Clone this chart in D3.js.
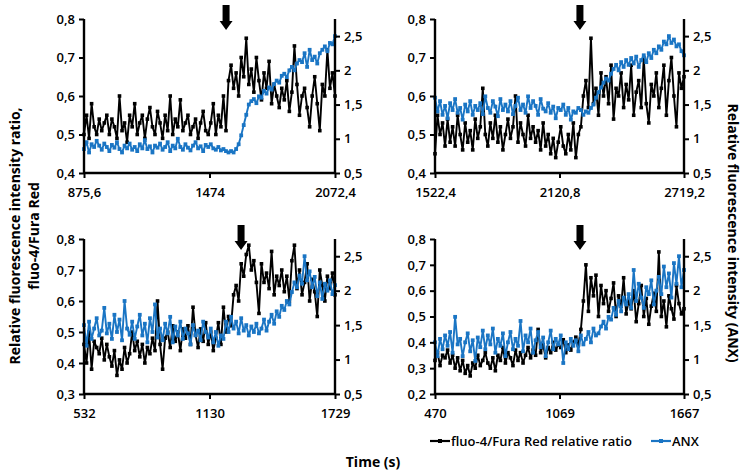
<!DOCTYPE html>
<html><head><meta charset="utf-8">
<script src="https://cdn.jsdelivr.net/npm/d3@7"></script>
<style>body{margin:0;background:#fff}svg{display:block}text{font-family:"Open Sans",sans-serif;fill:#000}</style>
</head><body><svg id="c" width="746" height="475"></svg>
<script>
// ---------- DATA ----------
const timeRanges = [[875.6, 2072.4], [1522.4, 2719.2], [532, 1729], [470, 1667]];
const xTickLabels = [["875,6","1474","2072,4"],["1522,4","2120,8","2719,2"],["532","1130","1729"],["470","1069","1667"]];
const leftDomains = [[0.4, 0.8], [0.4, 0.8], [0.3, 0.8], [0.2, 0.8]];
const rightDomain = [0.5, 2.75];
const rightTicks = [0.5, 1, 1.5, 2, 2.5];
const arrowTimes = [1553, 2219, 1281, 1167];
const seriesNames = ["fluo-4/Fura Red relative ratio", "ANX"];

const ratio1 = [0.50,0.55,0.49,0.58,0.52,0.50,0.54,0.51,0.53,0.55,
0.50,0.54,0.52,0.49,0.60,0.51,0.53,0.48,0.55,0.52,
0.58,0.50,0.53,0.55,0.49,0.54,0.57,0.52,0.50,0.56,
0.53,0.49,0.55,0.51,0.60,0.50,0.54,0.52,0.59,0.51,
0.53,0.55,0.50,0.52,0.54,0.49,0.53,0.56,0.51,0.50,
0.53,0.58,0.50,0.55,0.52,0.60,0.51,
0.64,0.68,0.62,0.66,0.60,0.70,0.65,0.75,0.63,0.67,
0.61,0.70,0.64,0.59,0.66,0.62,0.69,0.58,0.63,0.60,
0.57,0.62,0.59,0.64,0.56,0.61,0.73,0.63,0.55,0.60,
0.62,0.57,0.52,0.60,0.65,0.58,0.51,0.63,0.60,0.72,0.62,0.66,0.60];
const anx1 = [0.85,0.95,0.80,0.92,0.88,0.97,0.90,0.84,0.93,0.88,
0.82,0.91,0.87,0.95,0.85,0.80,0.90,0.86,0.93,0.84,
0.88,0.82,0.92,0.86,0.98,0.85,0.89,0.80,0.90,0.87,
0.93,0.84,0.88,0.95,0.82,0.90,0.86,1.00,0.88,0.84,
0.92,0.87,0.83,0.90,0.95,0.86,0.89,0.82,0.91,0.88,
0.92,0.86,0.84,0.88,0.83,0.85,0.82,
0.80,0.82,0.80,0.85,0.92,1.05,1.20,1.35,1.50,1.55,
1.58,1.52,1.62,1.60,1.70,1.66,1.75,1.72,1.80,1.85,
1.82,1.92,1.95,1.90,2.00,2.05,2.00,2.10,2.15,2.12,
2.25,2.05,2.30,2.15,2.20,2.10,2.25,2.30,2.35,2.28,2.40,2.38,2.50];

const ratio2 = [0.45,0.55,0.50,0.53,0.47,0.54,0.48,0.52,0.47,0.55,
0.50,0.46,0.53,0.48,0.51,0.46,0.54,0.49,0.52,0.62,
0.50,0.47,0.53,0.49,0.55,0.48,0.52,0.46,0.50,0.54,
0.49,0.52,0.60,0.48,0.53,0.50,0.47,0.55,0.49,0.52,
0.48,0.51,0.46,0.53,0.47,0.50,0.45,0.49,0.44,0.48,
0.52,0.47,0.45,0.50,0.46,0.53,0.44,0.50,
0.52,0.60,0.64,0.57,0.75,0.58,0.62,0.55,0.66,0.60,
0.65,0.58,0.68,0.54,0.62,0.60,0.66,0.57,0.63,0.59,
0.68,0.55,0.61,0.64,0.57,0.70,0.58,0.53,0.63,0.60,
0.66,0.57,0.62,0.68,0.55,0.64,0.70,0.60,0.52,0.66,0.62,0.65];
const anx2 = [1.60,1.40,1.55,1.35,1.48,1.30,1.52,1.42,1.58,1.38,
1.45,1.28,1.50,1.40,1.55,1.35,1.48,1.42,1.52,1.36,
1.62,1.45,1.38,1.55,1.47,1.33,1.58,1.42,1.50,1.40,
1.55,1.36,1.48,1.60,1.42,1.50,1.38,1.62,1.45,1.55,
1.48,1.35,1.58,1.44,1.40,1.52,1.38,1.47,1.30,1.45,
1.42,1.50,1.35,1.45,1.28,1.40,1.38,1.45,
1.42,1.35,1.40,1.38,1.45,1.50,1.60,1.68,1.75,1.82,
1.88,1.85,1.95,2.02,2.08,2.00,2.12,2.05,2.15,2.08,
2.18,2.10,2.20,2.05,2.15,2.22,2.12,2.25,2.18,2.30,
2.25,2.35,2.30,2.42,2.38,2.50,2.40,2.45,2.35,2.38,2.28,2.22];

const ratio3 = [0.46,0.40,0.50,0.38,0.47,0.45,0.43,0.48,0.41,0.46,
0.42,0.39,0.44,0.36,0.41,0.38,0.45,0.40,0.43,0.50,
0.44,0.47,0.42,0.46,0.40,0.45,0.43,0.48,0.44,0.60,
0.46,0.38,0.48,0.50,0.45,0.52,0.47,0.50,0.44,0.51,
0.48,0.52,0.46,0.58,0.49,0.45,0.51,0.47,0.53,0.46,
0.50,0.44,0.48,0.53,0.46,0.58,0.50,0.55,0.52,0.62,
0.65,0.60,0.72,0.68,0.75,0.78,0.70,0.73,0.66,0.56,
0.72,0.66,0.69,0.64,0.76,0.62,0.68,0.65,0.70,0.63,
0.68,0.60,0.73,0.78,0.64,0.70,0.62,0.66,0.72,0.60,
0.67,0.63,0.55,0.70,0.65,0.60,0.68,0.64,0.69,0.62];
const anx3 = [1.50,1.20,1.55,1.30,1.45,1.60,1.35,1.42,1.75,1.38,
1.52,1.30,1.65,1.40,1.58,1.28,1.85,1.45,1.36,1.55,
1.30,1.48,1.65,1.35,1.52,1.25,1.60,1.40,1.80,1.32,
1.45,1.28,1.52,1.38,1.62,1.25,1.48,1.35,1.55,1.30,
1.45,1.38,1.22,1.50,1.35,1.42,1.28,1.55,1.40,1.32,
1.45,1.25,1.40,1.20,1.35,1.30,1.55,1.40,1.62,1.45,
1.55,1.38,1.60,1.42,1.50,1.35,1.48,1.40,1.52,1.38,
1.45,1.58,1.42,1.55,1.65,1.52,1.70,1.62,1.78,1.72,
1.85,1.80,1.98,2.12,2.05,2.22,2.10,2.50,2.15,2.28,
2.05,2.20,1.92,2.12,1.88,2.10,2.00,2.15,1.95,2.08];

const ratio4 = [0.33,0.36,0.31,0.35,0.34,0.37,0.32,0.35,0.30,0.34,
0.29,0.33,0.28,0.31,0.27,0.32,0.30,0.35,0.31,0.33,
0.36,0.32,0.30,0.34,0.29,0.35,0.33,0.38,0.32,0.36,
0.34,0.31,0.37,0.33,0.36,0.32,0.35,0.38,0.34,0.37,
0.35,0.45,0.36,0.39,0.34,0.38,0.36,0.40,0.37,0.39,
0.38,0.41,0.36,0.39,0.37,0.40,0.42,0.39,
0.45,0.56,0.70,0.52,0.65,0.58,0.66,0.50,0.62,0.55,
0.60,0.52,0.57,0.63,0.50,0.58,0.54,0.65,0.51,0.56,
0.53,0.60,0.48,0.55,0.62,0.50,0.57,0.47,0.54,0.59,
0.52,0.75,0.50,0.56,0.46,0.58,0.53,0.49,0.62,0.55,0.51,0.53];
const anx4 = [1.25,1.05,1.30,1.15,1.35,1.20,1.40,1.10,1.62,1.22,
1.30,1.05,1.25,1.38,1.12,1.28,0.98,1.32,1.18,1.42,
1.15,1.35,1.22,1.45,1.10,1.30,1.20,1.38,1.05,1.25,
1.40,1.15,1.30,1.20,1.56,1.12,1.35,1.25,1.45,1.10,
1.28,1.40,1.18,1.32,1.05,1.25,1.42,1.15,1.30,1.22,
1.35,0.95,1.25,1.15,1.30,1.20,1.28,1.12,1.35,1.22,
1.30,1.40,1.25,1.45,1.35,1.38,1.48,1.55,1.45,1.62,
1.58,1.75,1.65,1.85,1.70,1.90,1.80,1.95,1.75,2.30,
1.85,2.10,1.90,1.75,2.05,1.95,2.15,1.80,2.00,2.20,
1.95,2.35,2.05,2.25,1.90,2.40,2.10,2.50,2.05,2.30];

const ratioSeries = [ratio1, ratio2, ratio3, ratio4];
const anxSeries = [anx1, anx2, anx3, anx4];

// ---------- LAYOUT ----------
const BLACK = "#000", BLUE = "#1a75c4";
const boxes = [
  {x0: 84, x1: 335, y0: 19, y1: 173},
  {x0: 435, x1: 684, y0: 19, y1: 173},
  {x0: 84, x1: 335, y0: 239, y1: 394},
  {x0: 435, x1: 684, y0: 239, y1: 394}
];
const svg = d3.select("#c");
const fmt = v => String(+v.toFixed(2)).replace(".", ",");

boxes.forEach((b, p) => {
  const [t0, t1] = timeRanges[p];
  const x = d3.scaleLinear().domain([t0, t1]).range([b.x0, b.x1]);
  const yL = d3.scaleLinear().domain(leftDomains[p]).range([b.y1, b.y0]);
  const yR = d3.scaleLinear().domain(rightDomain).range([b.y1, b.y0]);
  const g = svg.append("g");

  const mk = (vals) => vals.map((v, i) => ({t: t0 + i * (t1 - t0) / (vals.length - 1), v}));
  const rData = mk(ratioSeries[p]);
  const aData = mk(anxSeries[p]);

  const drawSeries = (data, yS, color, ms) => {
    g.append("path").datum(data)
      .attr("fill", "none").attr("stroke", color).attr("stroke-width", 1.9)
      .attr("stroke-linejoin", "round")
      .attr("d", d3.line().x(d => x(d.t)).y(d => yS(d.v)));
    g.append("g").selectAll("rect").data(data).join("rect")
      .attr("x", d => x(d.t) - ms / 2).attr("y", d => yS(d.v) - ms / 2)
      .attr("width", ms).attr("height", ms).attr("fill", color);
  };
  drawSeries(rData, yL, BLACK, 3.6);
  drawSeries(aData, yR, BLUE, 3.8);

  // axes
  const lt = d3.range(leftDomains[p][0], leftDomains[p][1] + 1e-9, 0.1).map(v => +v.toFixed(2));
  const axL = g.append("g").attr("transform", `translate(${b.x0},0)`)
    .call(d3.axisLeft(yL).tickValues(lt).tickFormat(fmt).tickSize(5).tickPadding(4));
  const axR = g.append("g").attr("transform", `translate(${b.x1},0)`)
    .call(d3.axisRight(yR).tickValues(rightTicks).tickFormat(fmt).tickSize(5).tickPadding(4));
  const xt = [t0, (t0 + t1) / 2, t1];
  const axX = g.append("g").attr("transform", `translate(0,${b.y1})`)
    .call(d3.axisBottom(x).tickValues(xt).tickFormat((d, i) => xTickLabels[p][i]).tickSize(5).tickPadding(10));
  [axL, axR, axX].forEach(a => {
    a.select(".domain").attr("stroke", "#000").attr("stroke-width", 2.4);
    a.selectAll(".tick line").attr("stroke", "#000").attr("stroke-width", 2);
    a.selectAll("text").attr("font-size", 13).attr("font-weight", 600)
      .style("font-family", '"Open Sans", sans-serif').attr("fill", "#000");
  });
  axL.select(".domain").attr("d", `M0,${b.y1}V${b.y0}`);
  axR.select(".domain").attr("d", `M0,${b.y1}V${b.y0}`);
  axX.select(".domain").attr("d", `M${b.x0},0H${b.x1}`);

  // arrow
  const ax = x(arrowTimes[p]);
  const top = b.y0 - 14, tip = b.y0 + 11;
  g.append("path")
    .attr("d", `M${ax - 3.5},${top}H${ax + 3.5}V${tip - 9}H${ax + 6.5}L${ax},${tip}L${ax - 6.5},${tip - 9}H${ax - 3.5}Z`)
    .attr("fill", "#000");
});

// titles
svg.append("text").attr("transform", "translate(20,236) rotate(-90)")
  .attr("text-anchor", "middle").attr("font-size", 14).attr("font-weight", 700)
  .text("Relative fluorescence intensity ratio,");
svg.append("text").attr("transform", "translate(39,236) rotate(-90)")
  .attr("text-anchor", "middle").attr("font-size", 14).attr("font-weight", 700)
  .text("fluo-4/Fura Red");
svg.append("text").attr("transform", "translate(728,233) rotate(90)")
  .attr("text-anchor", "middle").attr("font-size", 14).attr("font-weight", 700)
  .text("Relative fluorescence intensity (ANX)");
svg.append("text").attr("x", 373).attr("y", 467)
  .attr("text-anchor", "middle").attr("font-size", 14).attr("font-weight", 700)
  .text("Time (s)");

// legend
const leg = svg.append("g");
const legItems = [{name: seriesNames[0], color: BLACK, x: 430}, {name: seriesNames[1], color: BLUE, x: 651}];
legItems.forEach(it => {
  leg.append("line").attr("x1", it.x).attr("x2", it.x + 20).attr("y1", 441).attr("y2", 441)
    .attr("stroke", it.color).attr("stroke-width", 2.2);
  leg.append("rect").attr("x", it.x + 8).attr("y", 439).attr("width", 4).attr("height", 4).attr("fill", it.color);
  leg.append("text").attr("x", it.x + 21).attr("y", 445.5).attr("font-size", 13).attr("font-weight", 600)
    .text(it.name);
});
</script></body></html>
